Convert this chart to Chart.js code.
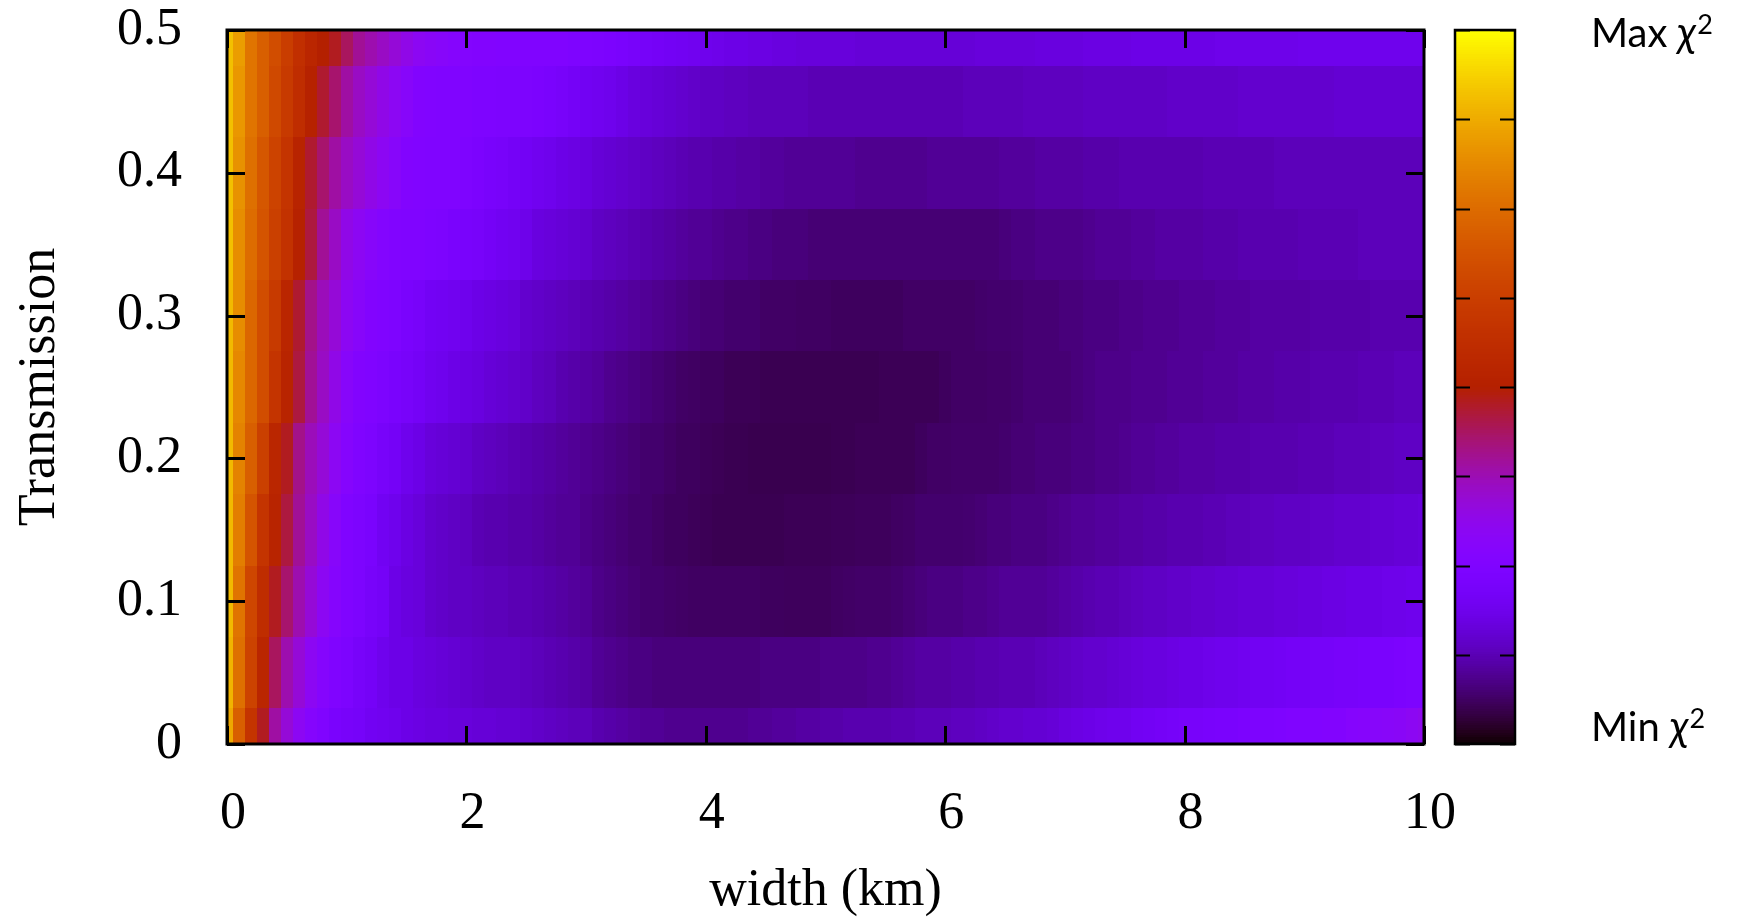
<!DOCTYPE html>
<html>
<head>
<meta charset="utf-8">
<script src="https://cdn.jsdelivr.net/npm/chart.js@4.4.1/dist/chart.umd.min.js"></script>
<style>
  html, body { margin: 0; padding: 0; background: #fff; }
  #wrap { width: 1744px; height: 918px; }
</style>
</head>
<body>
<div id="wrap"><canvas id="chart" width="1744" height="918"></canvas></div>
<script>
// ===== Data =====
// grid columns (km) and rows (transmission)
const widthKm = [0,0.1,0.2,0.3,0.4,0.5,0.6,0.7,0.8,0.9,1,1.1,1.2,1.3,1.4,1.5,1.6,1.7,1.8,1.9,
  2,2.1,2.2,2.3,2.4,2.5,2.6,2.7,2.8,2.9,3,3.1,3.2,3.3,3.4,3.5,3.6,3.7,3.8,3.9,
  4,4.1,4.2,4.3,4.4,4.5,4.6,4.7,4.8,4.9,5,5.1,5.2,5.3,5.4,5.5,5.6,5.7,5.8,5.9,
  6,6.1,6.2,6.3,6.4,6.5,6.6,6.7,6.8,6.9,7,7.1,7.2,7.3,7.4,7.5,7.6,7.7,7.8,7.9,
  8,8.1,8.2,8.3,8.4,8.5,8.6,8.7,8.8,8.9,9,9.1,9.2,9.3,9.4,9.5,9.6,9.7,9.8,9.9,10];
const transmission = [0,0.05,0.1,0.15,0.2,0.25,0.3,0.35,0.4,0.45,0.5];

// normalised chi2 (0 = Min, 100 = Max), one array per transmission row
const chi2_t050 = [91,85,77,72,67,62,57,53,50,48, 44,40,38,36,34,32,30,29,28,27,
  26.5,26,26,25.5,25.5,25,25,25,25,24.5, 24.5,24,23.5,23,22,21.5,21,20.5,20,19.5,
  19,18.5,18,18,17.5,17.5,17,17,16.5,16.5, 16.5,16.5,16.5,16,16,16,16,16,16,16,
  16,16,16,16.5,16.5,16.5,16.5,16.5,17,17, 17,17,17.5,17.5,17.5,17.5,18,18,18,18,
  18,18,18,18.5,18.5,18.5,18.5,18.5,18.5,18.5, 19,19,19,19,19,19,19,19,19,19, 19];
const chi2_t045 = [91,84,77,72,66,61,56,51,47,43, 39,36,34,32,30,28,26,25.5,25,25,
  25,24.5,24.5,24,24,24,23.5,23,22,21, 20,19.5,19,18,17,16.5,16,15.5,15,14.5,
  14,14,13.5,13.5,13,13,13,13,13,12.5, 12.5,12.5,12.5,12.5,12.5,12.5,12.5,12.5,12.5,12.5,
  12.5,12.5,13,13,13,13,13,13.5,13.5,13.5, 13.5,13.5,14,14,14,14,14,14,14,14.5,
  14.5,14.5,14.5,14.5,14.5,15,15,15,15,15, 15,15,15,15.5,15.5,15.5,15.5,15.5,15.5,15.5, 15.5];
const chi2_t040 = [91,83,76,70,64,59,52,47,43,39, 36,34,32,30,28,26,25.5,25,25,25,
  24.5,23.5,22.5,22,21,20.5,19.5,19,18,17.5, 17,16,15.5,15,14.5,14,13.5,13,12.5,12,
  12,11.5,11.5,11,11,10.5,10.5,10,10,10, 10,10,10,9.5,9.5,9.5,9.5,9.5,9.5,10,
  10,10,10,10,10,10.5,10.5,10.5,11,11, 11,11,11.5,11.5,11.5,12,12,12,12,12,
  12,12,12.5,12.5,12.5,12.5,12.5,12.5,13,13, 13,13,13,13,13,13,13,13,13,13, 13];
const chi2_t035 = [91,82,75,69,63,58,51,46,40,36, 32,30,28,26.5,25.5,25,25,24.5,24,23,
  22.5,22,21,20,19.5,18.5,17,16.5,16,15.5, 15,14,13.5,13,12.5,12,11.5,11,10.5,10,
  10,9.5,9,9,8.5,8.5,8,8,8,7.5, 7.5,7.5,7.5,7.5,7.5,7.5,7.5,7.5,7.5,7.5,
  7.5,7.5,7.5,7.5,7.5,8,8.5,8.5,9,9, 9,9,9.5,10,10,10,10.5,10.5,11,11,
  11,11,11.5,11.5,11.5,12,12,12,12,12, 12.5,12.5,12.5,12.5,12.5,13,13,13,13,13, 13];
const chi2_t030 = [90,82,74,67,61,53,47,41,37,34, 30,28,26,25,24.5,23,22,20.5,20,19.5,
  19,18,17.5,17,16.5,15,14.5,14,13.5,13, 12.5,12,11.5,11,10.5,10,9.5,9,8.5,8,
  7.5,7.5,7,7,7,6.5,6.5,6.5,6.3,6.3, 6.3,6,6,6,6,6,6,6.5,6.5,6.5,
  6.5,6.5,6.5,6.8,7,7,7.2,7.5,7.5,7.5, 8,8,8.5,8.5,8.5,9,9,9.5,9.5,9.5,
  10,10,10,10.5,10.5,10.5,11,11,11,11, 11,11.5,11.5,11.5,11.5,11.5,12,12,12,12, 12];
const chi2_t025 = [90,81,74,67,59,52,46,40,36,32, 28,26,25,24,23,22,21,19.5,19,18,
  17.5,17,16,15.5,15,14.5,13.5,13,12,11.5, 11,10.5,9.5,9,8.5,8,7.5,7,6.5,6.3,
  6,6,5.5,5.5,5.5,5.2,5.2,5.2,5.2,5.2, 5.2,5.2,5.2,5.2,5.2,5.5,5.5,5.5,5.5,5.5,
  6,6.5,6.5,6.5,6.7,6.7,7,7.5,7.5,7.5, 7.5,8,8.5,9,9,9,9.5,9.5,9.5,10,
  10,10,10.5,10.5,10.5,11,11,11,11.5,11.5, 11.5,12,12,12,12,12.5,12.5,12.5,13,13, 13];
const chi2_t020 = [90,80,72,63,53,48,41,37,34,30, 27,25,24,22,21,19,18,16.5,16,15.5,
  15,14,13.5,13,12.5,12,11.5,11,10.5,10, 9.5,9,8.5,8,7.5,7,7,6.5,6,6,
  5.7,5.5,5.2,5.2,5,5,5,5,5,5, 5,5.2,5.2,5.5,5.5,5.5,5.5,5.5,6,6.5,
  6.5,6.7,6.7,6.7,6.7,7,7.5,7.5,8,8, 8,8.5,8.5,9,9,9.5,10,10,10.5,10.5,
  11,11,11,11.5,11.5,11.5,12,12,12,12, 12.5,12.5,12.5,13,13,13,13.5,13.5,14,14, 14];
const chi2_t015 = [90,79,69,59,52,46,40,36,32,28, 25,24,23,20,19,17.5,16.5,15,14.5,14,
  13.5,12.5,12,12,11.5,11.5,11,10.5,10,10, 9,8.5,8,7.5,7,7,6.5,6,6,5.7,
  5.5,5.2,5.2,5.2,5.2,5.2,5.2,5.5,5.5,5.5, 5.5,5.7,5.7,5.9,5.9,5.9,6.3,6.5,7,7,
  7,7,7.2,7.5,8,8,8.5,8.5,8.5,9, 9.5,10,10,10.5,10.5,11,11,11.5,11.5,12,
  12,12,12.5,12.5,13,13,13.5,13.5,14,14, 14,14.5,14.5,15,15,15,15.5,15.5,16,16, 16.5];
const chi2_t010 = [90,77,65,56,48,43,38,34,30,27, 25,24,22,21,18,17,16.5,15,14.5,14,
  14,13.5,13,13,12.5,12.5,12,11.5,11,10.5, 10,9,8.5,8,7.5,7,7,6.7,6.5,6.3,
  6.3,6.3,6.3,6.3,6.3,6,6,5.9,5.9,5.9, 5.9,6.3,6.5,6.7,6.7,6.7,7,7.5,8,8.5,
  8.5,8.5,9,9,9.5,10,10,10,10,10.5, 11,11.5,12,12.5,12.5,13,13.5,14,14,14.5,
  14.5,15,15,15.5,15.5,16,16,16,16.5,16.5, 17,17,17.5,17.5,18,18,18,18.5,18.5,19, 19];
const chi2_t005 = [89,76,64,53,44,38,34,30,27,25, 24,22,21,19,18,18,17,16.5,16,15.5,
  15,14.5,14,14,14,13.5,13,12.5,12,11.5, 11,10,9.5,9,8.5,8.5,8,8,8,8,
  8,8,8,8,8,8.5,8.5,8.5,8.5,8.5, 9,9,9,9,9.5,9.5,10,10.5,11,11,
  11,11.5,11.5,12,12,12.5,12.5,12.5,13,13.5, 14,14.5,15,15,15.5,16,16.5,17,17,17.5,
  18,18,18.5,19,19,19.5,20,20,20.5,21, 21,21.5,21.5,22,22,22.5,23,23,23.5,24, 24];
const chi2_t000 = [87,72,59,48,39,34,30,27,25,23, 22,21.5,20,19.5,19,18,17.5,17,17,16.5,
  16.5,16,16,15.5,15.5,15,14.5,14,13.5,13, 13,12,11.5,11,10.5,10,10,9.5,9.5,9.5,
  9.5,9.5,9.5,9.5,10,10,10.5,10.5,11,11, 11.5,11.5,12,12,12,12,12.5,12.5,13,13,
  13,13.5,13.5,14,14.5,15,15,15.5,15.5,16, 17,17.5,18,18.5,19,19,20,20.5,21,21.5,
  22,22,22.5,23,23,23.5,24,24,24.5,25, 25,25.5,26,26,27,27.5,28,28.5,29,30, 31];

const chi2Rows = [chi2_t000, chi2_t005, chi2_t010, chi2_t015, chi2_t020, chi2_t025,
  chi2_t030, chi2_t035, chi2_t040, chi2_t045, chi2_t050];

const xTickStep = 2;
const yTickStep = 0.1;
const cbTickStep = 0.125;
const cbLabelMax = 'Max';
const cbLabelMin = 'Min';

// gnuplot default pm3d palette (rgbformulae 7,5,15)
function palette(v) {
  const r = Math.sqrt(v), g = v * v * v, b = Math.max(0, Math.sin(2 * Math.PI * v));
  return `rgb(${Math.round(r * 255)},${Math.round(g * 255)},${Math.round(b * 255)})`;
}

const cells = [];
transmission.forEach((t, i) => {
  widthKm.forEach((w, j) => cells.push({ x: w, y: t, v: chi2Rows[i][j] / 100 }));
});

const serif = '"Liberation Serif", "Times New Roman", serif';
const sans = 'Lato, "Open Sans", sans-serif';

// ===== Heatmap + frame + colorbar plugin =====
const heatmap = {
  id: 'heatmap',
  beforeDatasetsDraw(chart) {
    const { ctx, chartArea: a, scales: { x, y } } = chart;
    const hx = (widthKm[1] - widthKm[0]) / 2;
    const hy = (transmission[1] - transmission[0]) / 2;
    ctx.save();
    ctx.beginPath();
    ctx.rect(a.left, a.top, a.right - a.left, a.bottom - a.top);
    ctx.clip();
    chart.data.datasets[0].data.forEach(p => {
      const x0 = Math.round(x.getPixelForValue(p.x - hx));
      const x1 = Math.round(x.getPixelForValue(p.x + hx));
      const y0 = Math.round(y.getPixelForValue(p.y + hy));
      const y1 = Math.round(y.getPixelForValue(p.y - hy));
      ctx.fillStyle = palette(p.v);
      ctx.fillRect(x0, y0, x1 - x0, y1 - y0);
    });
    ctx.restore();
  },
  afterDraw(chart) {
    const { ctx, chartArea: a, scales: { x, y, cb } } = chart;
    ctx.save();
    ctx.strokeStyle = '#000';
    // inner ticks, mirrored
    ctx.lineWidth = 3;
    ctx.beginPath();
    x.ticks.forEach(t => {
      const px = Math.round(x.getPixelForValue(t.value)) + 0.5;
      ctx.moveTo(px, a.bottom); ctx.lineTo(px, a.bottom - 18);
      ctx.moveTo(px, a.top); ctx.lineTo(px, a.top + 18);
    });
    y.ticks.forEach(t => {
      const py = Math.round(y.getPixelForValue(t.value)) + 0.5;
      ctx.moveTo(a.left, py); ctx.lineTo(a.left + 18, py);
      ctx.moveTo(a.right, py); ctx.lineTo(a.right - 18, py);
    });
    ctx.stroke();
    ctx.strokeRect(a.left, a.top, a.right - a.left, a.bottom - a.top);

    // colorbar
    const L = cb.left + 31, R = cb.left + 91;
    const T = cb.getPixelForValue(1), B = cb.getPixelForValue(0);
    const n = 300;
    for (let i = 0; i < n; i++) {
      const ya = Math.floor(cb.getPixelForValue((i + 1) / n));
      const yb = Math.ceil(cb.getPixelForValue(i / n));
      ctx.fillStyle = palette((i + 0.5) / n);
      ctx.fillRect(L, ya, R - L, yb - ya);
    }
    ctx.lineWidth = 2;
    ctx.beginPath();
    cb.ticks.forEach(t => {
      const py = Math.round(cb.getPixelForValue(t.value)) + 0.5;
      ctx.moveTo(L, py); ctx.lineTo(L + 15, py);
      ctx.moveTo(R, py); ctx.lineTo(R - 15, py);
    });
    ctx.stroke();
    ctx.lineWidth = 2.5;
    ctx.strokeRect(L, T, R - L, B - T);

    // Max / Min labels
    const drawLabel = (word, lx, base) => {
      ctx.fillStyle = '#000';
      ctx.textBaseline = 'alphabetic';
      ctx.textAlign = 'left';
      ctx.font = `40px ${sans}`;
      ctx.fillText(word + ' ', lx, base);
      let w = ctx.measureText(word + ' ').width;
      ctx.font = `italic 42px ${sans}`;
      ctx.fillText('\u03C7', lx + w, base);
      w += ctx.measureText('\u03C7').width;
      ctx.font = `27px ${sans}`;
      ctx.fillText('2', lx + w + 1, base - 13);
    };
    drawLabel(cbLabelMax, cb.left + 167, T + 17);
    drawLabel(cbLabelMin, cb.left + 167, B - 3);
    ctx.restore();
  }
};

// ===== Chart =====
const noPad = s => { s.paddingTop = 0; s.paddingBottom = 0; };
const ctx = document.getElementById('chart').getContext('2d');
const chart = new Chart(ctx, {
  type: 'scatter',
  data: {
    datasets: [{ data: cells, pointRadius: 0, pointHoverRadius: 0, showLine: false }]
  },
  options: {
    responsive: false,
    animation: false,
    devicePixelRatio: 1,
    events: [],
    layout: { padding: { top: 30, bottom: 0, left: 0, right: 0 } },
    plugins: { legend: { display: false }, tooltip: { enabled: false } },
    scales: {
      x: {
        type: 'linear', min: 0, max: 10,
        ticks: { stepSize: xTickStep, color: '#000', padding: 39, maxRotation: 0, labelOffset: 6,
                 font: { family: serif, size: 52, lineHeight: 1.2 } },
        grid: { display: false, drawTicks: false },
        border: { display: false },
        title: { display: true, text: 'width (km)', color: '#000',
                 font: { family: serif, size: 52, lineHeight: 1 }, padding: { top: 0, bottom: 0.5 } },
        afterFit(s) { s.height = 174; }
      },
      y: {
        type: 'linear', min: 0, max: 0.5,
        ticks: { stepSize: yTickStep, color: '#000', padding: 45,
                 font: { family: serif, size: 52, lineHeight: 1 } },
        grid: { display: false, drawTicks: false },
        border: { display: false },
        title: { display: true, text: 'Transmission', color: '#000',
                 font: { family: serif, size: 52, lineHeight: 1.2 }, padding: { top: 9, bottom: 0 } },
        afterFit(s) { s.width = 227; noPad(s); }
      },
      cb: {
        type: 'linear', position: 'right', min: 0, max: 1,
        ticks: { display: false, stepSize: cbTickStep },
        grid: { display: false, drawTicks: false },
        border: { display: false },
        afterFit(s) { s.width = 320; noPad(s); }
      }
    }
  },
  plugins: [heatmap]
});
</script>
</body>
</html>
